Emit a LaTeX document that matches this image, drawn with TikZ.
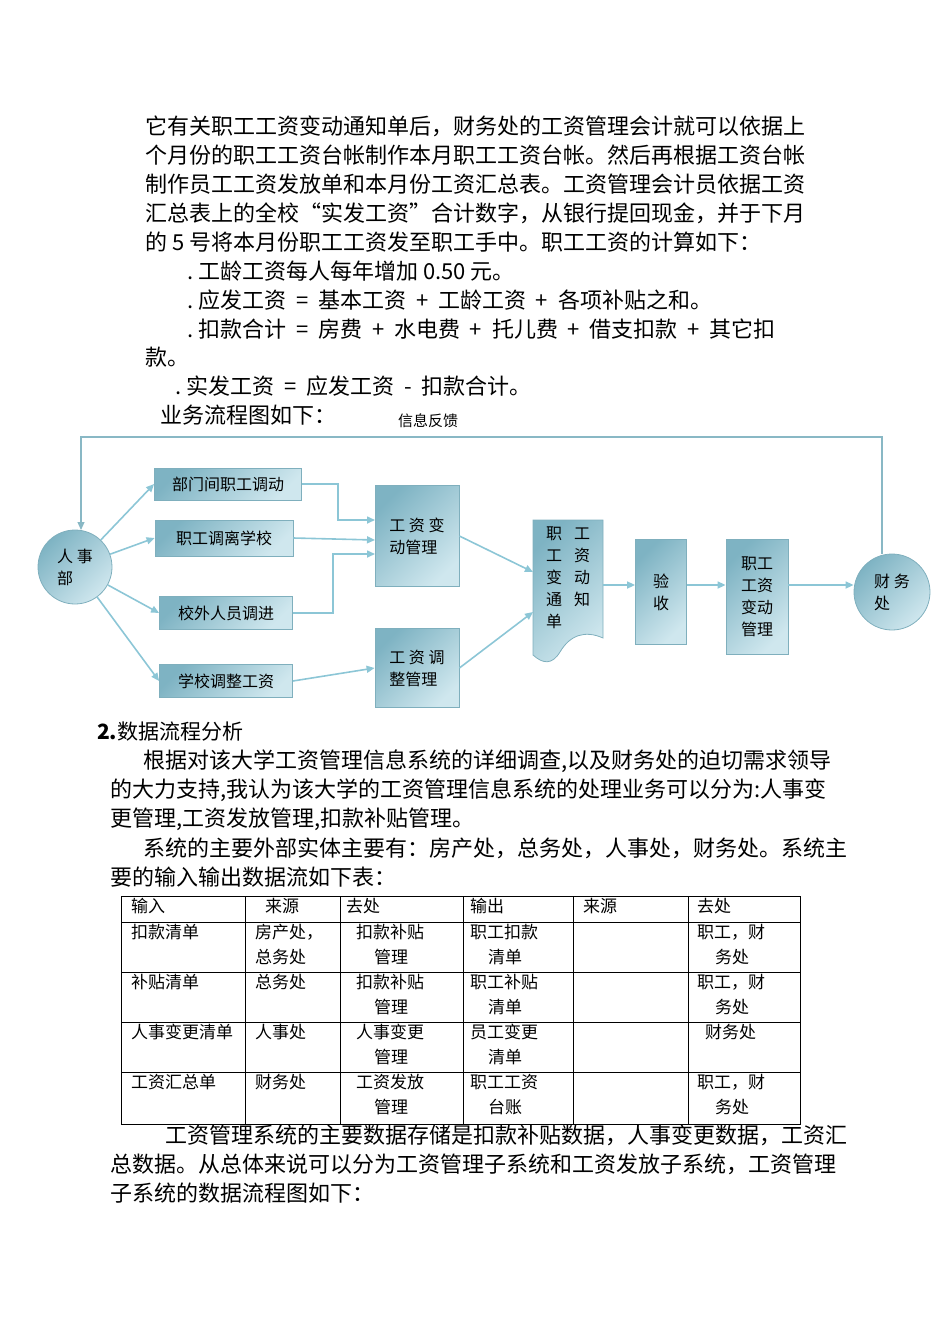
\documentclass[tikz,border=0pt]{standalone}
\usepackage{fontspec}
\setmainfont{Liberation Serif}
\newfontfamily\cjk{Noto Sans CJK SC}
\usetikzlibrary{arrows.meta}
\definecolor{ln}{HTML}{8CC6D6}
\definecolor{bxa}{HTML}{7EB3C3}
\definecolor{bxb}{HTML}{CFE7EE}
\definecolor{bxd}{HTML}{7FAFBD}
\begin{document}
\begin{tikzpicture}[x=1pt,y=-1pt,
  txt/.style={anchor=west,inner sep=0,font=\cjk\fontsize{22}{22}\selectfont},
  cell/.style={anchor=north west,inner sep=0,align=left,font=\cjk\fontsize{17}{25}\selectfont},
  bx/.style={draw=bxd,line width=0.8pt,top color=bxa,bottom color=bxb,shading angle=45,inner sep=0,font=\cjk\fontsize{16}{22}\selectfont},
  fl/.style={draw=ln,line width=1.6pt,-{Triangle[length=8pt,width=7pt]}},
  fb/.style={draw=ln!80!gray,line width=1.2pt}]
\useasboundingbox (0,0) rectangle (950,1344);
% top text
\node[txt] (p1) at (145,126) {它有关职工工资变动通知单后，财务处的工资管理会计就可以依据上};
\node[txt] (p2) at (145,155) {个月份的职工工资台帐制作本月职工工资台帐。然后再根据工资台帐};
\node[txt] (p3) at (145,184) {制作员工工资发放单和本月份工资汇总表。工资管理会计员依据工资};
\node[txt] (p4) at (145,213) {汇总表上的全校“实发工资”合计数字，从银行提回现金，并于下月};
\node[txt] (p5) at (145,242) {的 5 号将本月份职工工资发至职工手中。职工工资的计算如下：};
\node[txt] (p6) at (187,271) {.\ 工龄工资每人每年增加 0.50 元。};
\node[txt] (p7) at (187,300) {.\ 应发工资 \ = \ 基本工资 \ + \ 工龄工资 \ + \ 各项补贴之和。};
\node[txt] (p8) at (187,329) {.\ 扣款合计 \ = \ 房费 \ + \ 水电费 \ + \ 托儿费 \ + \ 借支扣款 \ + \ 其它扣};
\node[txt] (p9) at (145,357) {款。};
\node[txt] (p10) at (175,386) {.\ 实发工资 \ = \ 应发工资 \ - \ 扣款合计。};
\node[txt] (p11) at (160,415) {业务流程图如下：};
\node[anchor=center,inner sep=0,font=\cjk\fontsize{15}{15}\selectfont] (fbk) at (428,421) {信息反馈};
% diagram nodes
\node[bx,circle,minimum size=74pt,align=left] (rs) at (75,567) {人 事\\部};
\node[bx,minimum width=147pt,minimum height=32pt] (b1) at (228,484) {部门间职工调动};
\node[bx,minimum width=138pt,minimum height=36pt] (b2) at (224,538) {职工调离学校};
\node[bx,minimum width=133pt,minimum height=33pt] (b3) at (226,613) {校外人员调进};
\node[bx,minimum width=133pt,minimum height=33pt] (b4) at (226,681) {学校调整工资};
\node[bx,minimum width=84pt,minimum height=101pt,align=left] (m1) at (417,536) {工 资 变\\动管理};
\node[bx,minimum width=84pt,minimum height=79pt,align=left] (m2) at (417,668) {工 资 调\\整管理};
\shade[top color=bxa,bottom color=bxb,shading angle=45,draw=bxd,line width=0.8pt]
  (533,520) -- (603,520) -- (603,638) .. controls (585,630) and (570,635) .. (560,652) .. controls (552,665) and (543,664) .. (533,655) -- cycle;
\node[inner sep=0,font=\cjk\fontsize{16}{22}\selectfont,align=left] (doc) at (568,578) {职\hspace{12pt}工\\工\hspace{12pt}资\\变\hspace{12pt}动\\通\hspace{12pt}知\\单};
\coordinate (docw1) at (533,572);
\coordinate (docw2) at (533,612);
\coordinate (doce) at (603,585);
\node[bx,minimum width=51pt,minimum height=105pt,align=center] (ys) at (661,592) {验\\收};
\node[bx,minimum width=62pt,minimum height=115pt,align=center] (zg) at (757,597) {职工\\工资\\变动\\管理};
\node[bx,circle,minimum size=76pt,align=left] (cw) at (892,592) {财 务\\处};
% connectors
\draw[fl] (rs) -- (b1.west);
\draw[fl] (rs) -- (b2.west);
\draw[fl] (rs) -- (b3.west);
\draw[fl] (rs) -- (b4.west);
\draw[fl] (b1.east) -| (338,520) -- (375,520);
\draw[fl] (b2.east) -- (375,540);
\draw[fl] (b3.east) -| (333,554) -- (375,554);
\draw[fl] (b4.east) -- (m2.west);
\draw[fl] (m1.east) -- (docw1);
\draw[fl] (m2.east) -- (docw2);
\draw[fl] (doce) -- (ys.west |- doce);
\draw[fl] (ys.east |- doce) -- (zg.west |- doce);
\draw[fl] (zg.east |- doce) -- (cw.west |- doce);
\draw[fb,-{Triangle[length=8pt,width=7pt]}] (882,554) -- (882,437) -- (81,437) -- (81,530);
% section 2
\node[anchor=west,inner sep=0,font=\cjk\fontsize{21}{21}\selectfont] (h2) at (97,732) {\textbf{2.}数据流程分析};
\node[txt] (q1) at (143,761) {根据对该大学工资管理信息系统的详细调查,以及财务处的迫切需求领导};
\node[txt] (q2) at (110,790) {的大力支持,我认为该大学的工资管理信息系统的处理业务可以分为:人事变};
\node[txt] (q3) at (110,819) {更管理,工资发放管理,扣款补贴管理。};
\node[txt] (q4) at (143,848) {系统的主要外部实体主要有：房产处，总务处，人事处，财务处。系统主};
\node[txt] (q5) at (110,877) {要的输入输出数据流如下表：};
% table
\draw[line width=0.8pt] (121,896) rectangle (800,1124);
\foreach \y in {922,972,1022,1072} \draw[line width=0.8pt] (121,\y) -- (800,\y);
\foreach \x in {245,340,463,573,688} \draw[line width=0.8pt] (\x,896) -- (\x,1124);
\node[cell] (h1) at (131,898) {输入};
\node[cell] (h2b) at (265,898) {来源};
\node[cell] (h3) at (346,898) {去处};
\node[cell] (h4) at (470,898) {输出};
\node[cell] (h5) at (583,898) {来源};
\node[cell] (h6) at (697,898) {去处};
\node[cell] (c11) at (131,924) {扣款清单};
\node[cell] (c12) at (255,924) {房产处，\\总务处};
\node[cell] (c13) at (356,924) {扣款补贴\\\hspace*{18pt}管理};
\node[cell] (c14) at (470,924) {职工扣款\\\hspace*{18pt}清单};
\node[cell] (c16) at (697,924) {职工，财\\\hspace*{18pt}务处};
\node[cell] (c21) at (131,974) {补贴清单};
\node[cell] (c22) at (255,974) {总务处};
\node[cell] (c23) at (356,974) {扣款补贴\\\hspace*{18pt}管理};
\node[cell] (c24) at (470,974) {职工补贴\\\hspace*{18pt}清单};
\node[cell] (c26) at (697,974) {职工，财\\\hspace*{18pt}务处};
\node[cell] (c31) at (131,1024) {人事变更清单};
\node[cell] (c32) at (255,1024) {人事处};
\node[cell] (c33) at (356,1024) {人事变更\\\hspace*{18pt}管理};
\node[cell] (c34) at (470,1024) {员工变更\\\hspace*{18pt}清单};
\node[cell] (c36) at (705,1024) {财务处};
\node[cell] (c41) at (131,1074) {工资汇总单};
\node[cell] (c42) at (255,1074) {财务处};
\node[cell] (c43) at (356,1074) {工资发放\\\hspace*{18pt}管理};
\node[cell] (c44) at (470,1074) {职工工资\\\hspace*{18pt}台账};
\node[cell] (c46) at (697,1074) {职工，财\\\hspace*{18pt}务处};
\node[txt] (r1) at (165,1135) {工资管理系统的主要数据存储是扣款补贴数据，人事变更数据，工资汇};
\node[txt] (r2) at (110,1164) {总数据。从总体来说可以分为工资管理子系统和工资发放子系统，工资管理};
\node[txt] (r3) at (110,1193) {子系统的数据流程图如下：};
\end{tikzpicture}
\end{document}
